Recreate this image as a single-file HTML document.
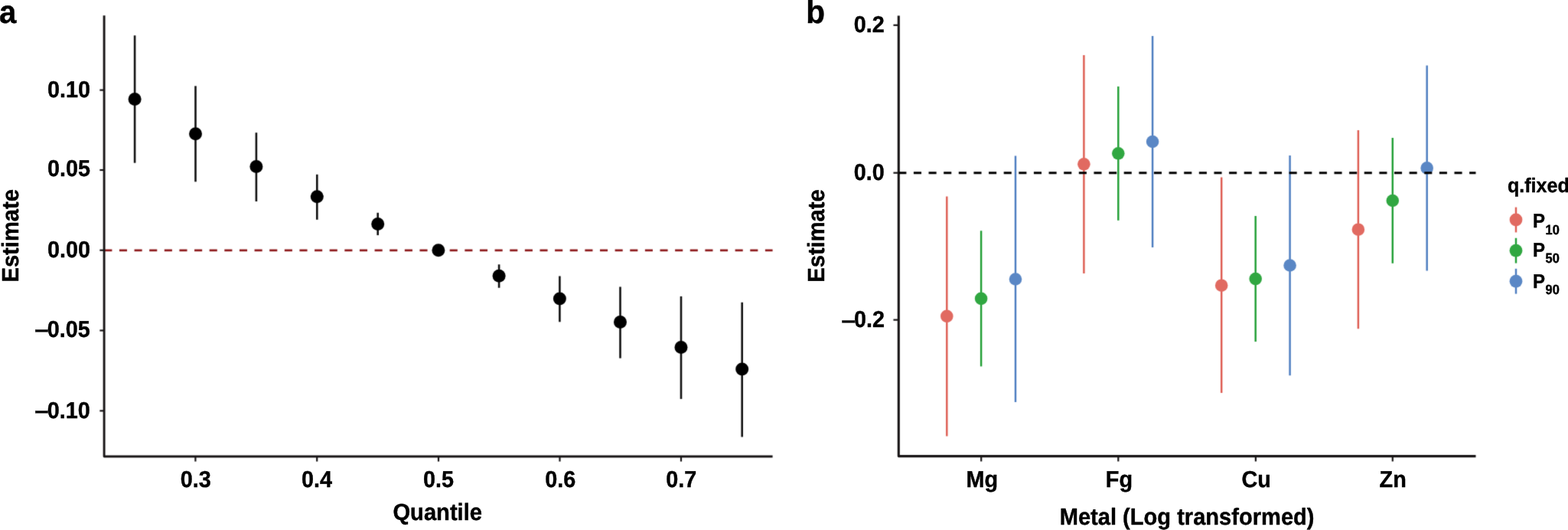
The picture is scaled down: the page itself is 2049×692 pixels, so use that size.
<!DOCTYPE html>
<html lang="en">
<head>
<meta charset="utf-8">
<title>Quantile estimates</title>
<style>
html, body { margin: 0; padding: 0; background: #ffffff; }
body { width: 2049px; height: 692px; overflow: hidden; }
svg { display: block; }
svg text { font-family: "Liberation Sans", sans-serif; font-weight: bold; text-rendering: geometricPrecision; stroke: #000; stroke-width: 0.4px; stroke-linejoin: round; }
</style>
</head>
<body>
<svg width="2049" height="692" viewBox="0 0 2049 692">
<defs>
<filter id="soft" x="0" y="0" width="2049" height="692" filterUnits="userSpaceOnUse" color-interpolation-filters="sRGB">
<feConvolveMatrix order="3" kernelMatrix="0.01433 0.09104 0.01433 0.09104 0.57851 0.09104 0.01433 0.09104 0.01433" divisor="1" bias="0" edgeMode="duplicate" preserveAlpha="true"/>
</filter>
</defs>
<g filter="url(#soft)">
<rect x="0" y="0" width="2049" height="692" fill="#ffffff"/>
<line x1="136.30" y1="326.80" x2="1009.60" y2="326.80" stroke="#8f1d1f" stroke-width="2.8" stroke-dasharray="10.1 9.527"/>
<path d="M136.1 20.3V596.0H1009.6" fill="none" stroke="#181516" stroke-width="2.9" stroke-linejoin="round"/>
<line x1="130.35" y1="117.60" x2="136.10" y2="117.60" stroke="#181516" stroke-width="2.2"/>
<line x1="130.35" y1="222.00" x2="136.10" y2="222.00" stroke="#181516" stroke-width="2.2"/>
<line x1="130.35" y1="326.70" x2="136.10" y2="326.70" stroke="#181516" stroke-width="2.2"/>
<line x1="130.35" y1="431.50" x2="136.10" y2="431.50" stroke="#181516" stroke-width="2.2"/>
<line x1="130.35" y1="536.40" x2="136.10" y2="536.40" stroke="#181516" stroke-width="2.2"/>
<line x1="255.40" y1="596.00" x2="255.40" y2="602.55" stroke="#181516" stroke-width="2.2"/>
<line x1="414.20" y1="596.00" x2="414.20" y2="602.55" stroke="#181516" stroke-width="2.2"/>
<line x1="573.00" y1="596.00" x2="573.00" y2="602.55" stroke="#181516" stroke-width="2.2"/>
<line x1="731.50" y1="596.00" x2="731.50" y2="602.55" stroke="#181516" stroke-width="2.2"/>
<line x1="890.00" y1="596.00" x2="890.00" y2="602.55" stroke="#181516" stroke-width="2.2"/>
<line x1="176.10" y1="46.30" x2="176.10" y2="212.70" stroke="#111" stroke-width="2.6"/>
<circle cx="176.1" cy="129.6" r="8.5" fill="#000"/>
<line x1="255.50" y1="112.30" x2="255.50" y2="237.30" stroke="#111" stroke-width="2.6"/>
<circle cx="255.5" cy="174.75" r="8.5" fill="#000"/>
<line x1="334.90" y1="173.20" x2="334.90" y2="263.00" stroke="#111" stroke-width="2.6"/>
<circle cx="334.9" cy="217.6" r="8.5" fill="#000"/>
<line x1="414.30" y1="227.80" x2="414.30" y2="286.80" stroke="#111" stroke-width="2.6"/>
<circle cx="414.3" cy="256.7" r="8.5" fill="#000"/>
<line x1="493.70" y1="277.80" x2="493.70" y2="307.10" stroke="#111" stroke-width="2.6"/>
<circle cx="493.7" cy="292.4" r="8.5" fill="#000"/>
<circle cx="572.9" cy="326.65" r="8.5" fill="#000"/>
<line x1="652.10" y1="345.30" x2="652.10" y2="375.80" stroke="#111" stroke-width="2.6"/>
<circle cx="652.1" cy="360.3" r="8.5" fill="#000"/>
<line x1="731.40" y1="360.50" x2="731.40" y2="420.30" stroke="#111" stroke-width="2.6"/>
<circle cx="731.4" cy="390.0" r="8.5" fill="#000"/>
<line x1="810.50" y1="374.50" x2="810.50" y2="467.70" stroke="#111" stroke-width="2.6"/>
<circle cx="810.5" cy="420.6" r="8.5" fill="#000"/>
<line x1="890.00" y1="386.90" x2="890.00" y2="520.90" stroke="#111" stroke-width="2.6"/>
<circle cx="890.0" cy="453.6" r="8.5" fill="#000"/>
<line x1="969.70" y1="394.80" x2="969.70" y2="570.50" stroke="#111" stroke-width="2.6"/>
<circle cx="969.7" cy="482.0" r="8.5" fill="#000"/>
<path d="M1174.3 20.4V595.6H1928.5" fill="none" stroke="#181516" stroke-width="3.1" stroke-linejoin="round"/>
<line x1="1167.45" y1="32.85" x2="1174.30" y2="32.85" stroke="#181516" stroke-width="2.2"/>
<line x1="1167.45" y1="225.70" x2="1174.30" y2="225.70" stroke="#181516" stroke-width="2.2"/>
<line x1="1167.45" y1="417.65" x2="1174.30" y2="417.65" stroke="#181516" stroke-width="2.2"/>
<line x1="1282.20" y1="595.60" x2="1282.20" y2="602.45" stroke="#181516" stroke-width="2.2"/>
<line x1="1461.30" y1="595.60" x2="1461.30" y2="602.45" stroke="#181516" stroke-width="2.2"/>
<line x1="1640.90" y1="595.60" x2="1640.90" y2="602.45" stroke="#181516" stroke-width="2.2"/>
<line x1="1819.80" y1="595.60" x2="1819.80" y2="602.45" stroke="#181516" stroke-width="2.2"/>
<line x1="1237.30" y1="256.60" x2="1237.30" y2="569.50" stroke="#de5d53" stroke-width="2.45"/>
<circle cx="1237.3" cy="412.9" r="8.3" fill="#e16a61"/>
<line x1="1282.10" y1="301.30" x2="1282.10" y2="478.40" stroke="#229f36" stroke-width="2.45"/>
<circle cx="1282.1" cy="389.9" r="8.3" fill="#30a741"/>
<line x1="1327.00" y1="203.40" x2="1327.00" y2="525.00" stroke="#4d7dc0" stroke-width="2.45"/>
<circle cx="1327.0" cy="364.5" r="8.3" fill="#5a87c5"/>
<line x1="1416.40" y1="71.90" x2="1416.40" y2="357.10" stroke="#de5d53" stroke-width="2.45"/>
<circle cx="1416.4" cy="214.3" r="8.3" fill="#e16a61"/>
<line x1="1461.30" y1="112.90" x2="1461.30" y2="287.80" stroke="#229f36" stroke-width="2.45"/>
<circle cx="1461.3" cy="200.3" r="8.3" fill="#30a741"/>
<line x1="1506.10" y1="46.90" x2="1506.10" y2="323.10" stroke="#4d7dc0" stroke-width="2.45"/>
<circle cx="1506.1" cy="185.0" r="8.3" fill="#5a87c5"/>
<line x1="1596.20" y1="231.50" x2="1596.20" y2="512.90" stroke="#de5d53" stroke-width="2.45"/>
<circle cx="1596.2" cy="372.7" r="8.3" fill="#e16a61"/>
<line x1="1640.70" y1="282.00" x2="1640.70" y2="446.10" stroke="#229f36" stroke-width="2.45"/>
<circle cx="1640.7" cy="364.1" r="8.3" fill="#30a741"/>
<line x1="1685.60" y1="203.00" x2="1685.60" y2="490.20" stroke="#4d7dc0" stroke-width="2.45"/>
<circle cx="1685.6" cy="346.5" r="8.3" fill="#5a87c5"/>
<line x1="1774.90" y1="169.90" x2="1774.90" y2="429.20" stroke="#de5d53" stroke-width="2.45"/>
<circle cx="1774.9" cy="299.7" r="8.3" fill="#e16a61"/>
<line x1="1819.80" y1="180.00" x2="1819.80" y2="343.80" stroke="#229f36" stroke-width="2.45"/>
<circle cx="1819.8" cy="262.0" r="8.3" fill="#30a741"/>
<line x1="1864.70" y1="85.60" x2="1864.70" y2="353.60" stroke="#4d7dc0" stroke-width="2.45"/>
<circle cx="1864.7" cy="219.4" r="8.3" fill="#5a87c5"/>
<line x1="1174.30" y1="225.70" x2="1928.50" y2="225.70" stroke="#000" stroke-width="3.0" stroke-dasharray="10.1 9.527"/>
<line x1="1981.00" y1="270.60" x2="1981.00" y2="303.40" stroke="#de5d53" stroke-width="2.45"/>
<circle cx="1981.0" cy="287.0" r="8.4" fill="#e16a61"/>
<line x1="1981.00" y1="310.80" x2="1981.00" y2="343.60" stroke="#229f36" stroke-width="2.45"/>
<circle cx="1981.0" cy="327.2" r="8.4" fill="#30a741"/>
<line x1="1981.00" y1="350.85" x2="1981.00" y2="383.65" stroke="#4d7dc0" stroke-width="2.45"/>
<circle cx="1981.0" cy="367.25" r="8.4" fill="#5a87c5"/>
</g>
<g>
<text transform="translate(-1.00 30.40) scale(1 1.05)" font-size="40.2" text-anchor="start" fill="#000">a</text>
<text transform="translate(118.00 126.90) scale(1 1.05)" font-size="28.8" text-anchor="end" fill="#000">0.10</text>
<text transform="translate(118.00 230.30) scale(1 1.05)" font-size="28.8" text-anchor="end" fill="#000">0.05</text>
<text transform="translate(118.00 335.85) scale(1 1.05)" font-size="28.8" text-anchor="end" fill="#000">0.00</text>
<text transform="translate(117.70 440.00) scale(1 1.05)" font-size="28.8" text-anchor="end" fill="#000"><tspan textLength="18.4" lengthAdjust="spacingAndGlyphs" dy="0.2">–</tspan><tspan dx="-2.0" dy="-0.2">0.05</tspan></text>
<text transform="translate(117.70 546.20) scale(1 1.05)" font-size="28.8" text-anchor="end" fill="#000"><tspan textLength="18.4" lengthAdjust="spacingAndGlyphs" dy="0.2">–</tspan><tspan dx="-2.0" dy="-0.2">0.10</tspan></text>
<text transform="translate(255.80 636.30) scale(1 1.05)" font-size="28.8" text-anchor="middle" fill="#000">0.3</text>
<text transform="translate(414.10 636.30) scale(1 1.05)" font-size="28.8" text-anchor="middle" fill="#000">0.4</text>
<text transform="translate(572.90 636.30) scale(1 1.05)" font-size="28.8" text-anchor="middle" fill="#000">0.5</text>
<text transform="translate(732.30 636.30) scale(1 1.05)" font-size="28.8" text-anchor="middle" fill="#000">0.6</text>
<text transform="translate(890.30 636.30) scale(1 1.05)" font-size="28.8" text-anchor="middle" fill="#000">0.7</text>
<text transform="translate(571.70 678.50) scale(1 1.05)" font-size="29.15" text-anchor="middle" fill="#000">Quantile</text>
<text transform="translate(24.0 307.8) rotate(-90) scale(1 1.05)" font-size="29.15" text-anchor="middle">Estimate</text>
<text transform="translate(1053.20 30.20) scale(1 1.05)" font-size="40.6" text-anchor="start" fill="#000">b</text>
<text transform="translate(1155.80 42.40) scale(1 1.05)" font-size="28.8" text-anchor="end" fill="#000">0.2</text>
<text transform="translate(1155.80 235.40) scale(1 1.05)" font-size="28.8" text-anchor="end" fill="#000">0.0</text>
<text transform="translate(1156.00 427.40) scale(1 1.05)" font-size="28.8" text-anchor="end" fill="#000"><tspan textLength="18.4" lengthAdjust="spacingAndGlyphs" dy="0.2">–</tspan><tspan dx="-2.0" dy="-0.2">0.2</tspan></text>
<text transform="translate(1283.20 635.85) scale(1 1.05)" font-size="28.8" text-anchor="middle" fill="#000">Mg</text>
<text transform="translate(1462.40 635.85) scale(1 1.05)" font-size="28.8" text-anchor="middle" fill="#000">Fg</text>
<text transform="translate(1641.70 635.85) scale(1 1.05)" font-size="28.8" text-anchor="middle" fill="#000">Cu</text>
<text transform="translate(1820.20 635.85) scale(1 1.05)" font-size="28.8" text-anchor="middle" fill="#000">Zn</text>
<text transform="translate(1551.10 684.90) scale(1 1.05)" font-size="29.08" text-anchor="middle" fill="#000">Metal (Log transformed)</text>
<text transform="translate(1077.1 308.0) rotate(-90) scale(1 1.05)" font-size="29.15" text-anchor="middle">Estimate</text>
<text transform="translate(1969.90 250.90) scale(1 1.05)" font-size="25.1" text-anchor="start" fill="#000">q.fixed</text>
<text transform="translate(2003.0 297.04) scale(1 1.08)" font-size="24.0">P<tspan dx="0.5" dy="8.36" font-size="16.4">10</tspan></text>
<text transform="translate(2003.0 335.10) scale(1 1.08)" font-size="24.0">P<tspan dx="0.5" dy="7.50" font-size="16.4">50</tspan></text>
<text transform="translate(2003.0 375.96) scale(1 1.08)" font-size="24.0">P<tspan dx="0.5" dy="7.69" font-size="16.4">90</tspan></text>
</g>
</svg>
</body>
</html>
